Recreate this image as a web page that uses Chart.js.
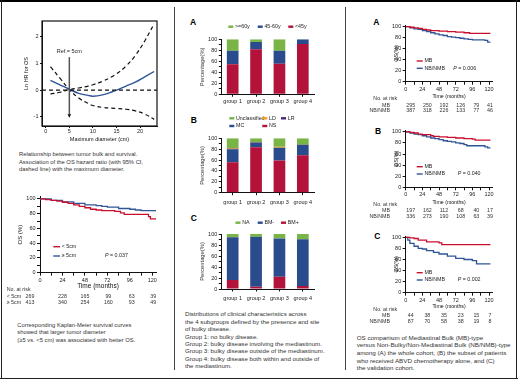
<!DOCTYPE html>
<html>
<head>
<meta charset="utf-8">
<title>Tumor bulk and survival</title>
<script src="https://cdn.jsdelivr.net/npm/chart.js@4.4.0/dist/chart.umd.min.js"></script>
<style>
  body { margin: 0; width: 520px; height: 384px; position: relative; overflow: hidden; background: #fff;
         font-family: "Liberation Sans", Arial, sans-serif; color: #333; }
  canvas { position: absolute; }
  .rule { position: absolute; background: #222; }
  .cap { position: absolute; white-space: nowrap; color: #333; }
  .tag { position: absolute; font-weight: bold; font-size: 8.5px; line-height: 1; color: #000; }
</style>
</head>
<body>
<!-- frame -->
<div class="rule" style="left:0;top:0;width:520px;height:2px;background:#000"></div>
<div class="rule" style="left:0;top:378px;width:518px;height:1px"></div>
<div class="rule" style="left:1px;top:0;width:1px;height:379px"></div>
<div class="rule" style="left:516px;top:0;width:1px;height:379px"></div>
<div class="rule" style="left:174px;top:7px;width:1px;height:363px;background:#444"></div>
<div class="rule" style="left:345px;top:7px;width:1px;height:363px;background:#444"></div>

<div class="cap" style="left:19px;top:151.2px;font-size:5.8px;line-height:7.6px">Relationship between tumor bulk and survival.<br>Association of the OS hazard ratio (with 95% CI,<br>dashed line) with the maximum diameter.</div>
<div class="cap" style="left:17.3px;top:321.9px;font-size:5.8px;line-height:7.6px">Corresponding Kaplan-Meier survival curves<br>showed that larger tumor diameter<br>(≥5 vs. &lt;5 cm) was associated with better OS.</div>
<div class="cap" style="left:185px;top:310.3px;font-size:6.15px;line-height:7.43px">Distributions of clinical characteristics across<br>the 4 subgroups defined by the presence and site<br>of bulky disease.<br>Group 1: no bulky disease.<br>Group 2: bulky disease involving the mediastinum.<br>Group 3: bulky disease outside of the mediastinum.<br>Group 4: bulky disease both within and outside of<br>the mediastinum.</div>
<div class="cap" style="left:356.7px;top:333.5px;font-size:6.25px;line-height:7.68px">OS comparison of Mediastinal Bulk (MB)-type<br>versus Non-Bulky/Non-Mediastinal Bulk (NB/NMB)-type<br>among (A) the whole cohort, (B) the subset of patients<br>who received ABVD chemotherapy alone, and (C)<br>the validation cohort.</div>

<div class="tag" style="left:190px;top:18.2px">A</div>
<div class="tag" style="left:190.7px;top:116.2px">B</div>
<div class="tag" style="left:190.7px;top:213.9px">C</div>
<div class="tag" style="left:373.3px;top:17.9px">A</div>
<div class="tag" style="left:375px;top:127.2px">B</div>
<div class="tag" style="left:374.3px;top:231.6px">C</div>

<script>
// ---- spline: ln HR for OS vs maximum diameter (cm)
var diamCm   = [1, 3, 5, 7, 9, 10, 12, 14, 15, 17, 19, 21, 23];
var lnHr     = [0.37, 0.2, 0.03, -0.12, -0.2, -0.23, -0.18, -0.07, 0, 0.15, 0.3, 0.5, 0.7];
var lnHrHigh = [-0.15, -0.08, 0.02, 0.08, 0.15, 0.2, 0.33, 0.5, 0.61, 0.9, 1.3, 1.85, 2.5];
var lnHrLow  = [0.88, 0.45, 0.02, -0.3, -0.5, -0.58, -0.65, -0.68, -0.69, -0.72, -0.78, -0.9, -1.1];

// ---- KM by tumor diameter
var smallTime = [0, 6, 12, 18, 24, 30, 36, 42, 48, 54, 60, 66, 72, 80, 86, 90, 112, 116, 118, 124];
var smallSurv = [100, 99, 98, 97, 95.5, 94, 92, 90, 88, 86, 85, 84, 84, 83, 81, 79, 79, 76, 73, 73];
var largeTime = [0, 12, 24, 36, 48, 60, 66, 72, 84, 96, 102, 108, 124];
var largeSurv = [100, 98, 96, 94, 92, 91, 90, 89, 87, 86, 85, 84, 84];
var riskTimes = [0, 24, 48, 72, 96, 120];
var riskSmall = [269, 228, 165, 99, 63, 39];
var riskLarge = [413, 340, 254, 160, 93, 49];

// ---- subgroup distributions (%)
var groups = ["group 1", "group 2", "group 3", "group 4"];
var ageUnder45 = [54.5, 81.8, 55.6, 91.5];
var age45to60  = [24.8, 13.5, 23.7, 8.5];
var age60plus  = [20.7, 4.7, 20.7, 0];
var histNS     = [56, 83.5, 59, 69];
var histMC     = [24, 8.5, 23.5, 18.5];
var histLR     = [1, 0.7, 0, 0.5];
var histLD     = [1, 0.5, 1.8, 0];
var histUncl   = [18, 6.8, 15.7, 12];
var bmPos      = [16.5, 4.2, 22.4, 5.5];
var bmNeg      = [77.5, 90.8, 69.6, 84.9];
var bmNA       = [6, 5, 8, 9.6];

// ---- KM MB vs NB/NMB, (A) whole cohort
var aMbTime = [0, 6, 12, 18, 24, 30, 36, 48, 60, 72, 84, 92, 122];
var aMbSurv = [100, 99, 98, 97, 95, 94, 93, 92, 91, 90, 89, 88, 88];
var aNbTime = [0, 6, 12, 18, 24, 30, 36, 42, 48, 54, 60, 66, 72, 78, 84, 90, 96, 108, 114, 118, 122];
var aNbSurv = [100, 98, 96, 95, 93, 91, 89, 87, 85, 84, 82, 81, 80, 79, 78, 77, 76, 76, 75, 72, 72];
var aRiskMb = [295, 250, 192, 126, 79, 41];
var aRiskNb = [387, 318, 226, 133, 77, 46];
// (B) ABVD alone
var bMbTime = [0, 6, 12, 18, 24, 36, 40, 48, 60, 72, 84, 96, 100, 122];
var bMbSurv = [100, 99, 98, 96, 95, 93, 92, 91, 90, 89, 88, 87, 85, 85];
var bNbTime = [0, 6, 12, 18, 24, 30, 36, 42, 48, 54, 60, 66, 72, 78, 84, 88, 108, 114, 118, 122];
var bNbSurv = [100, 98, 96, 95, 93, 91, 89, 88, 86, 84, 83, 82, 80, 79, 77, 75, 75, 73, 71, 71];
var bRiskMb = [197, 162, 112, 68, 40, 17];
var bRiskNb = [336, 273, 190, 108, 63, 39];
// (C) validation cohort
var cMbTime = [0, 6, 12, 18, 30, 48, 52, 122];
var cMbSurv = [100, 99, 98, 95, 92, 90, 87, 87];
var cNbTime = [0, 3, 6, 12, 18, 24, 30, 40, 48, 60, 72, 84, 96, 102, 122];
var cNbSurv = [100, 95, 89, 84, 80, 79, 76, 73, 70, 66, 62, 60, 58, 52, 52];
var cRiskMb = [44, 38, 35, 23, 15, 7];
var cRiskNb = [87, 70, 58, 38, 19, 8];

var RED = "#c8102e", BLUE = "#2e5596";
var BAR_RED = "#b3123a", BAR_BLUE = "#2b4c8c", BAR_GREEN = "#78b446", BAR_ORANGE = "#f0a01e", BAR_PURPLE = "#4e2676";
var SANS = '"Liberation Sans", Arial, sans-serif';
var NARROW = '"Liberation Sans Narrow", "Liberation Sans", Arial, sans-serif';

Chart.defaults.font.family = SANS;
Chart.defaults.color = "#222";
Chart.defaults.animation = false;
Chart.defaults.plugins.legend.display = false;
Chart.defaults.plugins.tooltip.enabled = false;

function pts(xs, ys) {
  return xs.map(function (x, i) { return { x: x, y: ys[i] }; });
}

// legend keys drawn at fixed spots, taken from the datasets
var keyPlugin = {
  id: "keys",
  afterDraw: function (chart, args, o) {
    if (!o.items) return;
    var ctx = chart.ctx;
    var ox = parseFloat(chart.canvas.style.left), oy = parseFloat(chart.canvas.style.top);
    ctx.save();
    ctx.textBaseline = "middle";
    ctx.textAlign = "left";
    ctx.font = o.size + "px " + SANS;
    o.items.forEach(function (it) {
      var ds = chart.data.datasets[it.i];
      var x = it.x - ox, y = it.y - oy;
      if (o.swatch === "line") {
        ctx.strokeStyle = ds.borderColor;
        ctx.lineWidth = 1.4;
        ctx.beginPath(); ctx.moveTo(x, y); ctx.lineTo(x + o.len, y); ctx.stroke();
      } else {
        ctx.fillStyle = ds.backgroundColor;
        ctx.fillRect(x, y - o.h / 2, o.len, o.h);
      }
      ctx.fillStyle = "#222";
      ctx.fillText(ds.label, x + o.len + o.gap, y);
    });
    if (o.p) {
      var px = o.p.x - ox, py = o.p.y - oy;
      ctx.font = "italic " + o.size + "px " + SANS;
      ctx.fillText("P", px, py);
      var w = ctx.measureText("P").width;
      ctx.font = o.size + "px " + SANS;
      ctx.fillText(" = " + o.p.text, px + w, py);
    }
    ctx.restore();
  }
};

// numbers at risk under the time axis
var riskPlugin = {
  id: "risk",
  afterDraw: function (chart, args, o) {
    if (!o.rows) return;
    var ctx = chart.ctx, xs = chart.scales.x;
    var ox = parseFloat(chart.canvas.style.left), oy = parseFloat(chart.canvas.style.top);
    ctx.save();
    ctx.font = o.size + "px " + SANS;
    ctx.fillStyle = "#333";
    ctx.textBaseline = "middle";
    ctx.textAlign = "left";
    ctx.fillText("No. at risk", o.headX - ox, o.headY - oy);
    o.rows.forEach(function (row, r) {
      var y = o.rowY[r] - oy;
      ctx.textAlign = o.labelAlign;
      ctx.fillText(row.label, o.labelX - ox, y);
      ctx.textAlign = "center";
      row.values.forEach(function (n, k) {
        ctx.fillText(String(n), xs.getPixelForValue(riskTimes[k]) + o.dx[k], y);
      });
    });
    ctx.restore();
  }
};

// box, zero line and reference arrow of the spline plot
var refPlugin = {
  id: "ref",
  afterDraw: function (chart, args, o) {
    if (o.x == null) return;
    var ctx = chart.ctx, xs = chart.scales.x, ys = chart.scales.y, a = chart.chartArea;
    ctx.save();
    ctx.strokeStyle = "#111";
    ctx.lineWidth = 1.2;
    ctx.strokeRect(a.left, a.top, a.right - a.left, a.bottom - a.top);
    ctx.setLineDash([4, 3]);
    var y0 = ys.getPixelForValue(o.y);
    ctx.beginPath(); ctx.moveTo(a.left, y0); ctx.lineTo(a.right, y0); ctx.stroke();
    ctx.setLineDash([]);
    var px = xs.getPixelForValue(o.x), yt = ys.getPixelForValue(o.from), yb = ys.getPixelForValue(o.to);
    ctx.strokeStyle = "#555";
    ctx.lineWidth = 1.5;
    ctx.beginPath(); ctx.moveTo(px, yt); ctx.lineTo(px, yb - 3); ctx.stroke();
    ctx.fillStyle = "#111";
    ctx.beginPath(); ctx.moveTo(px - 1.8, yb - 3.5); ctx.lineTo(px + 1.8, yb - 3.5); ctx.lineTo(px, yb); ctx.closePath(); ctx.fill();
    ctx.font = "5.5px " + SANS;
    ctx.fillStyle = "#222";
    ctx.textAlign = "center";
    ctx.textBaseline = "middle";
    ctx.fillText(o.label, px, ys.getPixelForValue(o.labelAt));
    ctx.restore();
  }
};

Chart.register(keyPlugin, riskPlugin, refPlugin);

function linAxis(min, max, step, every, tl, pad, title, tsize, family) {
  return {
    type: "linear", min: min, max: max,
    border: { color: "#111", width: 1 },
    grid: { drawOnChartArea: false, drawTicks: true, tickLength: tl, color: "#111" },
    ticks: {
      stepSize: step, includeBounds: false, autoSkip: false, maxRotation: 0, padding: pad,
      font: { size: 5.5 }, color: "#222",
      callback: function (v) { return Math.abs(v % every) < 1e-9 ? String(v) : ""; }
    },
    title: { display: true, text: title, color: "#111", font: { family: family || NARROW, size: tsize } }
  };
}

function catAxis(pad) {
  return {
    type: "category", stacked: true, offset: true,
    border: { color: "#111", width: 1 },
    grid: { offset: false, drawOnChartArea: false, drawTicks: true, tickLength: 2.5, color: "#111" },
    ticks: { font: { size: 5.5 }, color: "#222", padding: pad, maxRotation: 0, autoSkip: false }
  };
}

// place a canvas so that the plot area lands on the given page rectangle
function build(spec, cfg) {
  var b = spec.box, a = spec.area, padL = 2;
  var cv = document.createElement("canvas");
  cv.width = b[2]; cv.height = b[3];
  cv.style.left = b[0] + "px"; cv.style.top = b[1] + "px";
  cv.style.width = b[2] + "px"; cv.style.height = b[3] + "px";
  document.body.appendChild(cv);
  var sx = cfg.options.scales.x, sy = cfg.options.scales.y;
  var yW = a[0] - b[0] - padL;
  var xH = spec.xH;
  if (spec.yTitleX != null) {
    var lh = sy.title.font.size * 1.2;
    sy.title.padding = { top: spec.yTitleX - (b[0] + padL) - lh / 2, bottom: 0 };
  }
  if (spec.xTitleY != null) {
    var lh2 = sx.title.font.size * 1.2;
    xH = spec.xTitleY - a[3] + lh2 / 2;
    sx.title.padding = { top: 0, bottom: 0 };
  }
  sx.afterFit = function (s) { s.height = xH; };
  sy.afterFit = function (s) { s.width = yW; };
  cfg.options.responsive = false;
  cfg.options.layout = { padding: { left: padL, top: a[1] - b[1], right: b[0] + b[2] - a[2], bottom: b[1] + b[3] - a[3] - xH } };
  return new Chart(cv, cfg);
}

function kmLine(label, t, s, color) {
  return { label: label, data: pts(t, s), stepped: true, borderColor: color, backgroundColor: color,
           borderWidth: 1.3, pointRadius: 0, fill: false };
}

function bar(label, values, color) {
  return { label: label, data: values, backgroundColor: color, borderWidth: 0,
           barPercentage: 0.5, categoryPercentage: 1 };
}

// spline plot
build({ box: [0, 8, 172, 140], area: [42, 21, 157, 126], yTitleX: 26.7, xTitleY: 139 }, {
  type: "line",
  data: { datasets: [
    { data: pts(diamCm, lnHr), borderColor: "#2f5597", borderWidth: 1.4, tension: 0.4, pointRadius: 0 },
    { data: pts(diamCm, lnHrHigh), borderColor: "#111", borderWidth: 1.2, borderDash: [4, 3], tension: 0.4, pointRadius: 0 },
    { data: pts(diamCm, lnHrLow), borderColor: "#111", borderWidth: 1.2, borderDash: [4, 3], tension: 0.4, pointRadius: 0 }
  ] },
  options: {
    plugins: { ref: { x: 5, y: 0, from: 1.24, to: -1.04, label: "Ref.= 5cm", labelAt: 1.45 } },
    scales: {
      x: linAxis(-0.8, 23.6, 5, 5, 2, 0.4, "Maximum diameter (cm)", 5.5),
      y: linAxis(-1.35, 2.6, 1, 1, 2, 1.5, "Ln HR for OS", 5.5)
    }
  }
});

// KM by diameter
build({ box: [0, 188, 172, 120], area: [40, 196.7, 156, 272.7], yTitleX: 20.7, xTitleY: 286.7 }, {
  type: "line",
  data: { datasets: [
    kmLine("< 5cm", smallTime, smallSurv, RED),
    kmLine("\u2265 5cm", largeTime, largeSurv, BLUE)
  ] },
  options: {
    plugins: {
      keys: { swatch: "line", len: 6.7, gap: 1.7, size: 5.3,
              items: [{ i: 0, x: 53.3, y: 246.7 }, { i: 1, x: 53.3, y: 256 }],
              p: { text: "0.037", x: 105, y: 256 } },
      risk: { size: 5.3, headX: 6.7, headY: 290, labelX: 6.7, labelAlign: "left",
              rowY: [296.7, 302.3], dx: [-10, 0, 0, 1, 2, 1],
              rows: [{ label: "< 5cm", values: riskSmall }, { label: "\u2265 5cm", values: riskLarge }] }
    },
    scales: {
      x: linAxis(0, 124, 12, 24, 3, 1, "Time (months)", 6.5),
      y: linAxis(0, 103, 10, 20, 3, 1.5, "OS (%)", 6)
    }
  }
});

// stacked bars
function barChart(spec, datasets, keys, pad) {
  var y = linAxis(0, 100, 10, 20, 2.2, 1.5, "Percentage(%)", 5.8, SANS);
  y.stacked = true;
  y.title.color = "#333";
  return build(spec, {
    type: "bar",
    data: { labels: groups, datasets: datasets },
    options: {
      plugins: { keys: { swatch: "box", len: 5, h: 2.4, gap: 1.7, size: 5.3, items: keys } },
      scales: { x: catAxis(pad), y: y }
    }
  });
}

barChart({ box: [176, 14, 166, 96], area: [221, 39.3, 314.5, 94.3], yTitleX: 202.3, xH: 12 }, [
  bar("<45y", ageUnder45, BAR_RED),
  bar("45-60y", age45to60, BAR_BLUE),
  bar(">=60y", age60plus, BAR_GREEN)
], [{ i: 2, x: 228.3, y: 26.7 }, { i: 1, x: 257.7, y: 26.7 }, { i: 0, x: 288.3, y: 26.7 }], 1.6);

barChart({ box: [176, 112, 166, 98], area: [221, 138.3, 314.5, 192.7], yTitleX: 202.3, xH: 12 }, [
  bar("NS", histNS, BAR_RED),
  bar("MC", histMC, BAR_BLUE),
  bar("LR", histLR, BAR_PURPLE),
  bar("LD", histLD, BAR_ORANGE),
  bar("Unclassified", histUncl, BAR_GREEN)
], [{ i: 4, x: 229.3, y: 118.3 }, { i: 3, x: 262.3, y: 118.3 }, { i: 2, x: 281, y: 118.3 },
    { i: 1, x: 229.3, y: 126 }, { i: 0, x: 262.3, y: 126 }], 3.8);

barChart({ box: [176, 214, 166, 92], area: [221, 234, 314.5, 289], yTitleX: 202.3, xH: 12 }, [
  bar("BM+", bmPos, BAR_RED),
  bar("BM-", bmNeg, BAR_BLUE),
  bar("NA", bmNA, BAR_GREEN)
], [{ i: 2, x: 235.5, y: 222.7 }, { i: 1, x: 257.7, y: 222.7 }, { i: 0, x: 281, y: 222.7 }], 3.5);

// KM MB vs NB/NMB
function mbChart(top, area, titleY, legY, pX, headY, rowY, mb, nb, pText) {
  return build({ box: [362, top, 156, 102], area: area, yTitleX: 396, xTitleY: titleY }, {
    type: "line",
    data: { datasets: [kmLine("MB", mb[0], mb[1], RED), kmLine("NB/NMB", nb[0], nb[1], BLUE)] },
    options: {
      plugins: {
        keys: { swatch: "line", len: 6, gap: 1.7, size: 5.3,
                items: [{ i: 0, x: 416.7, y: legY }, { i: 1, x: 416.7, y: legY + 7.3 }],
                p: { text: pText, x: pX, y: legY + 7.3 } },
        risk: { size: 5.3, headX: 373.3, headY: headY, labelX: 390, labelAlign: "right",
                rowY: rowY, dx: [5, 5, 5, 5, 4, 1],
                rows: [{ label: "MB", values: mb[2] }, { label: "NB/NMB", values: nb[2] }] }
      },
      scales: {
        x: linAxis(0, 124.7, 12, 24, 3, 1.2, "Time (months)", 5.2),
        y: linAxis(0, 102.5, 20, 20, 3, 1.5, "OS(%)", 5.5)
      }
    }
  });
}

mbChart(14, [405.7, 25.3, 492.3, 81.7], 96.3, 61, 453.3, 99, [105.3, 111],
        [aMbTime, aMbSurv, aRiskMb], [aNbTime, aNbSurv, aRiskNb], "0.006");
mbChart(120, [405.7, 130.5, 492.3, 187.3], 202.3, 166.7, 457.7, 205, [210.7, 216.7],
        [bMbTime, bMbSurv, bRiskMb], [bNbTime, bNbSurv, bRiskNb], "0.040");
mbChart(226, [405.7, 236, 492.3, 292.7], 306.7, 272.7, 457.7, 310, [316, 321.7],
        [cMbTime, cMbSurv, cRiskMb], [cNbTime, cNbSurv, cRiskNb], "0.002");
</script>
</body>
</html>
